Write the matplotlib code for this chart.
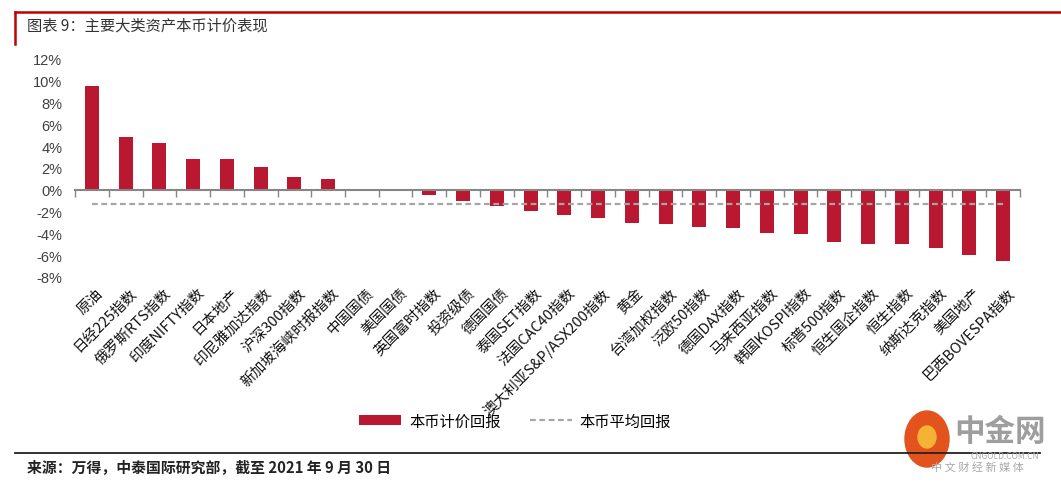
import numpy as np
import matplotlib.pyplot as plt
from matplotlib.patches import Patch, Ellipse
from matplotlib.lines import Line2D

plt.rcParams['font.family'] = ['Noto Sans CJK SC', 'DejaVu Sans']

# categories and local-currency returns (%)
assets = ["原油", "日经225指数", "俄罗斯RTS指数", "印度NIFTY指数", "日本地产",
          "印尼雅加达指数", "沪深300指数", "新加坡海峡时报指数", "中国国债", "美国国债",
          "英国富时指数", "投资级债", "德国国债", "泰国SET指数", "法国CAC40指数",
          "澳大利亚S&P/ASX200指数", "黄金", "台湾加权指数", "泛欧50指数", "德国DAX指数",
          "马来西亚指数", "韩国KOSPI指数", "标普500指数", "恒生国企指数", "恒生指数",
          "纳斯达克指数", "美国地产", "巴西BOVESPA指数"]
returns = [9.5, 4.8, 4.25, 2.8, 2.8, 2.1, 1.2, 0.95, 0.0, 0.0,
           -0.45, -1.05, -1.5, -1.95, -2.35, -2.6, -3.05, -3.15, -3.45, -3.55,
           -4.0, -4.1, -4.75, -4.95, -5.0, -5.3, -5.95, -6.55]
avg_return = [-1.3] * len(assets)
yticks = [-8, -6, -4, -2, 0, 2, 4, 6, 8, 10, 12]

red = "#BA1830"
grey = "#A6A6A6"

fig = plt.figure(figsize=(10.61, 4.85), dpi=100)
ax = fig.add_axes([75 / 1061, 1 - 278 / 485, 945 / 1061, 218 / 485])

x = np.arange(len(assets))
ax.bar(x, returns, width=0.42, color=red, zorder=2)
ax.plot(x, avg_return, color=grey, lw=1.6, ls=(0, (2.6, 1.6)), zorder=3)

ax.set_xlim(-0.5, len(assets) - 0.5)
ax.set_ylim(-8, 12)
ax.set_yticks(yticks)
ax.set_yticklabels([f"{v}%" for v in yticks], fontsize=10.5, color="#404040",
                   family=["Liberation Sans", "DejaVu Sans"])
ax.tick_params(axis='y', length=0, pad=9)

# zero axis with tick marks at category boundaries
for s in ["left", "right", "top"]:
    ax.spines[s].set_visible(False)
ax.spines['bottom'].set_position(('data', 0))
ax.spines['bottom'].set_color("#868686")
ax.spines['bottom'].set_linewidth(1.5)
ax.spines['bottom'].set_zorder(4)
ax.set_xticks(np.arange(len(assets) + 1) - 0.5)
ax.set_xticklabels([])
ax.tick_params(axis='x', length=5, width=1, color="#868686", direction='out')

# category labels at bottom of plot area
for i, name in enumerate(assets):
    ax.annotate(name, xy=(i, 0), xycoords=('data', 'axes fraction'),
                xytext=(3, -6), textcoords='offset points',
                rotation=45, ha='right', va='top', rotation_mode='anchor',
                fontsize=10.5, color="#111111")

# legend
handles = [Patch(facecolor=red, edgecolor='none'),
           Line2D([0], [0], color=grey, lw=1.6, ls=(0, (2.6, 1.6)))]
fig.legend(handles, ["本币计价回报", "本币平均回报"], loc='center',
           bbox_to_anchor=(515 / 1061, 1 - 422 / 485), ncol=2, frameon=False,
           fontsize=11, handlelength=2.75, handleheight=0.6, columnspacing=1.9,
           handletextpad=0.5)

# title frame
fig.add_artist(Line2D([15 / 1061, 1], [1 - 13 / 485] * 2, color="#C00000", lw=1.8))
fig.add_artist(Line2D([15 / 1061] * 2, [1 - 13 / 485, 1 - 45 / 485], color="#C00000", lw=1.8))
fig.text(27 / 1061, 1 - 26 / 485, "图表 9：主要大类资产本币计价表现", fontsize=11,
         color="#333333", va='center', ha='left')

# footer
fig.add_artist(Line2D([15 / 1061, 1040 / 1061], [1 - 454 / 485] * 2, color="#222222", lw=1.3))
fig.text(27 / 1061, 1 - 467 / 485, "来源：万得，中泰国际研究部，截至 2021 年 9 月 30 日",
         fontsize=10.7, color="#222222", va='center', ha='left', fontweight='bold')

# watermark logo
fig.add_artist(Ellipse((927 / 1061, 1 - 440 / 485), 44 / 1061, 56 / 485,
                       color="#E2531E", transform=fig.transFigure))
fig.add_artist(Ellipse((927 / 1061, 1 - 438 / 485), 18 / 1061, 22 / 485,
                       color="#F5B335", transform=fig.transFigure))
fig.text(1000 / 1061, 1 - 432 / 485, "中金网", fontsize=22, color="#9E9E9E",
         ha='center', va='center', fontweight='bold')
fig.text(1005 / 1061, 1 - 457 / 485, "CNGOLD.COM.CN", fontsize=6, color="#AAAAAA",
         ha='center', va='center')
fig.text(977 / 1061, 1 - 467 / 485, "中 文 财 经 新 媒 体", fontsize=8, color="#AAAAAA",
         ha='center', va='center')

fig.savefig("out.png", dpi=100)
